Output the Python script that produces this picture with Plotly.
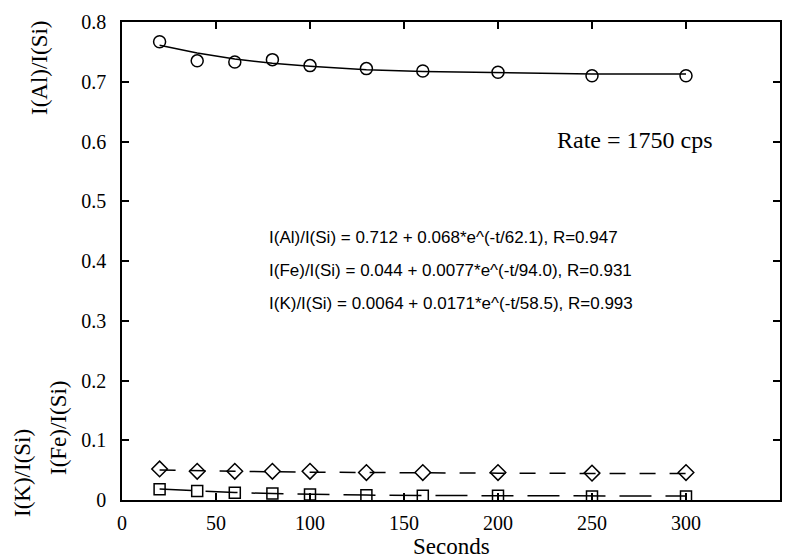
import plotly.graph_objects as go

seconds = [20, 40, 60, 80, 100, 130, 160, 200, 250, 300]
al_ratio = [0.767, 0.735, 0.733, 0.737, 0.727, 0.722, 0.718, 0.716, 0.710, 0.710]
fe_ratio = [0.052, 0.048, 0.048, 0.048, 0.048, 0.046, 0.046, 0.046, 0.045, 0.046]
k_ratio = [0.018, 0.015, 0.012, 0.011, 0.009, 0.008, 0.007, 0.007, 0.006, 0.006]

al_fit = [0.761, 0.748, 0.738, 0.731, 0.726, 0.720, 0.717, 0.715, 0.713, 0.713]
fe_fit = [0.0503, 0.0490, 0.0480, 0.0473, 0.0466, 0.0459, 0.0454, 0.0449, 0.0445, 0.0443]
k_fit = [0.0185, 0.0150, 0.0125, 0.0107, 0.0095, 0.0082, 0.0075, 0.0070, 0.0066, 0.0065]

equations = [
    "I(Al)/I(Si) = 0.712 + 0.068*e^(-t/62.1), R=0.947",
    "I(Fe)/I(Si) = 0.044 + 0.0077*e^(-t/94.0), R=0.931",
    "I(K)/I(Si) = 0.0064 + 0.0171*e^(-t/58.5), R=0.993",
]

SERIF = "Liberation Serif, Times New Roman, serif"
SANS = "Liberation Sans, Arial, sans-serif"

OFF = 8  # default page body margin
W, H = 791 - OFF, 558 - OFF
L, R, T, B = 122 - OFF, 11, 22 - OFF, 58
PW, PH = W - L - R, H - T - B

fig = go.Figure()
fig.add_trace(go.Scatter(x=seconds, y=al_fit, mode="lines", line=dict(color="black", width=1.5)))
fig.add_trace(go.Scatter(x=seconds, y=fe_fit, mode="lines", line=dict(color="black", width=1.5, dash="16px,14px")))
fig.add_trace(go.Scatter(x=seconds, y=k_fit, mode="lines", line=dict(color="black", width=1.5, dash="32px,14px")))
fig.add_trace(go.Scatter(x=seconds, y=al_ratio, mode="markers",
                         marker=dict(symbol="circle-open", size=12, color="black", line=dict(width=1.5))))
fig.add_trace(go.Scatter(x=seconds, y=fe_ratio, mode="markers",
                         marker=dict(symbol="diamond-open", size=12, color="black", line=dict(width=1.5))))
fig.add_trace(go.Scatter(x=seconds, y=k_ratio, mode="markers",
                         marker=dict(symbol="square-open", size=11, color="black", line=dict(width=1.5))))


def px(xs):
    return (xs - OFF - L) / PW


def py(ys):
    return (T + PH - (ys - OFF)) / PH


annotations = [
    dict(text="Rate = 1750 cps", x=px(555), y=py(140), xref="paper", yref="paper",
         xanchor="left", yanchor="middle", showarrow=False,
         font=dict(family=SERIF, size=24, color="black")),
    dict(text="Seconds", x=px(451), y=py(546), xref="paper", yref="paper",
         xanchor="center", yanchor="middle", showarrow=False,
         font=dict(family=SERIF, size=23, color="black")),
]
for txt, yy in zip(equations, [237, 270, 303]):
    annotations.append(dict(text=txt, x=px(267), y=py(yy), xref="paper", yref="paper",
                            xanchor="left", yanchor="middle", showarrow=False,
                            font=dict(family=SANS, size=17, color="black")))
# rotated y-axis titles
for txt, xp, yp in [("I(Al)/I(Si)", 40, 68), ("I(Fe)/I(Si)", 58, 428), ("I(K)/I(Si)", 22, 473)]:
    annotations.append(dict(text=txt, x=px(xp), y=py(yp),
                            xref="paper", yref="paper", xanchor="center", yanchor="middle",
                            textangle=-90, showarrow=False,
                            font=dict(family=SERIF, size=23, color="black")))

fig.update_layout(
    width=W, height=H,
    margin=dict(l=L, r=R, t=T, b=B, autoexpand=False),
    paper_bgcolor="white", plot_bgcolor="white",
    showlegend=False,
    annotations=annotations,
    xaxis=dict(range=[0, 350], dtick=50, tick0=0, showgrid=False, zeroline=False,
               automargin=False,
               showline=True, linecolor="black", linewidth=2, mirror="ticks",
               ticks="inside", ticklen=7, tickwidth=1.5, tickcolor="black",
               ticklabelstandoff=4,
               tickfont=dict(family=SERIF, size=20, color="black")),
    yaxis=dict(range=[0, 0.8], dtick=0.1, tick0=0, showgrid=False, zeroline=False,
               automargin=False,
               showline=True, linecolor="black", linewidth=1.5, mirror="ticks",
               ticks="inside", ticklen=7, tickwidth=1.5, tickcolor="black",
               ticklabelstandoff=10,
               tickfont=dict(family=SERIF, size=20, color="black")),
)

fig.write_html("out.html")
